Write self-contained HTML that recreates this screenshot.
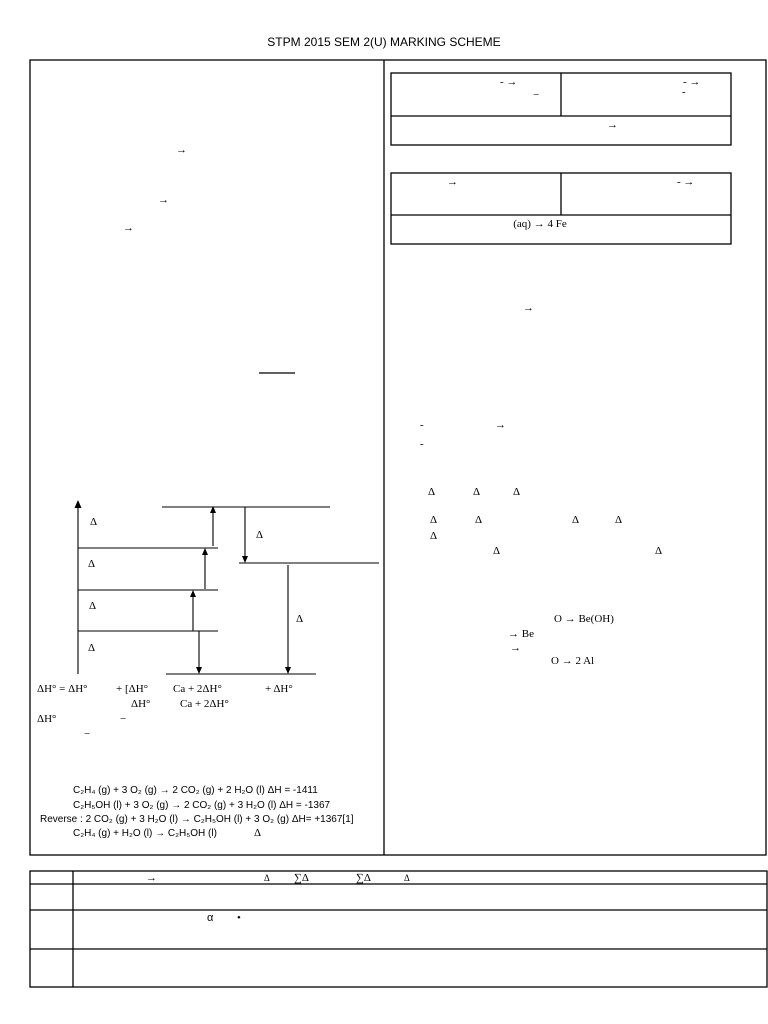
<!DOCTYPE html>
<html><head><meta charset="utf-8"><style>
html,body{margin:0;padding:0;background:#fff;}
svg{display:block}
text{font-family:"Liberation Serif",serif;font-size:11px;fill:#000}
.s{font-family:"Liberation Sans",sans-serif}
</style></head><body>
<svg width="768" height="1024" viewBox="0 0 768 1024" xmlns="http://www.w3.org/2000/svg">
<text x="384" y="46" text-anchor="middle" class="s" font-size="12" style="font-size:12px">STPM 2015 SEM 2(U) MARKING SCHEME</text>
<g fill="none" stroke="#000" stroke-width="1.3">
<rect x="30" y="60" width="736" height="795"/>
<line x1="384" y1="60" x2="384" y2="855"/>
<rect x="391" y="73" width="340" height="72"/>
<line x1="391" y1="116" x2="731" y2="116"/><line x1="561" y1="73" x2="561" y2="116"/>
<rect x="391" y="173" width="340" height="71"/>
<line x1="391" y1="215" x2="731" y2="215"/><line x1="561" y1="173" x2="561" y2="215"/>
<rect x="30" y="871" width="737" height="116"/>
<line x1="30" y1="884" x2="767" y2="884"/><line x1="30" y1="910" x2="767" y2="910"/><line x1="30" y1="949" x2="767" y2="949"/>
<line x1="73" y1="871" x2="73" y2="987"/>
<line x1="259" y1="373" x2="295" y2="373"/>
</g>
<g stroke="#000" stroke-width="1.1" fill="none">
<line x1="78" y1="674" x2="78" y2="505"/>
<line x1="162" y1="507" x2="330" y2="507"/>
<line x1="78" y1="548" x2="218" y2="548"/>
<line x1="78" y1="590" x2="218" y2="590"/>
<line x1="78" y1="631" x2="218" y2="631"/>
<line x1="166" y1="674" x2="316" y2="674"/>
<line x1="239" y1="563" x2="379" y2="563"/>
<line x1="213" y1="546" x2="213" y2="512"/>
<line x1="205" y1="589" x2="205" y2="553"/>
<line x1="193" y1="631" x2="193" y2="595"/>
<line x1="199" y1="631" x2="199" y2="668"/>
<line x1="245" y1="507" x2="245" y2="557"/>
<line x1="288" y1="565" x2="288" y2="668"/>
</g>
<g fill="#000">
<polygon points="78,500 74.5,508 81.5,508"/>
<polygon points="213,506 210,513 216,513"/>
<polygon points="205,548 202,555 208,555"/>
<polygon points="193,590 190,597 196,597"/>
<polygon points="199,674 196,667 202,667"/>
<polygon points="245,563 242,556 248,556"/>
<polygon points="288,674 285,667 291,667"/>
</g>
<text x="90" y="525">Δ</text><text x="88" y="567">Δ</text><text x="89" y="609">Δ</text><text x="88" y="651">Δ</text>
<text x="256" y="538">Δ</text><text x="296" y="622">Δ</text>
<text x="37" y="692">ΔH° = ΔH°</text><text x="116" y="692">+ [ΔH°</text><text x="173" y="692">Ca + 2ΔH°</text><text x="265" y="692">+ ΔH°</text>
<text x="131" y="707">ΔH°</text><text x="180" y="707">Ca + 2ΔH°</text>
<text x="37" y="722">ΔH°</text><text x="120" y="722">−</text><text x="84" y="737">−</text>
<g class="s" style="font-size:10px">
<text class="s" x="73" y="793" style="font-size:10px">C₂H₄ (g) + 3 O₂ (g) → 2 CO₂ (g) + 2 H₂O (l)  ΔH = -1411</text>
<text class="s" x="73" y="808" style="font-size:10px">C₂H₅OH (l) + 3 O₂ (g) → 2 CO₂ (g) + 3 H₂O (l)  ΔH = -1367</text>
<text class="s" x="40" y="822" style="font-size:10px">Reverse : 2 CO₂ (g) + 3 H₂O (l) → C₂H₅OH (l) + 3 O₂ (g) ΔH= +1367[1]</text>
<text class="s" x="73" y="836" style="font-size:10px">C₂H₄ (g) + H₂O (l) → C₂H₅OH (l)</text>
</g>
<text x="254" y="836">Δ</text>
<text x="176" y="153">→</text><text x="158" y="203">→</text><text x="123" y="231">→</text>
<text x="500" y="85">- →</text><text x="533" y="98">−</text><text x="683" y="85">- →</text><text x="682" y="95">-</text>
<text x="607" y="128">→</text>
<text x="447" y="185">→</text><text x="677" y="185">- →</text>
<text x="540" y="227" text-anchor="middle">(aq)  →  4 Fe</text>
<text x="523" y="311">→</text>
<text x="420" y="428">-</text><text x="495" y="428">→</text><text x="420" y="447">-</text>
<text x="428" y="495">Δ</text><text x="473" y="495">Δ</text><text x="513" y="495">Δ</text>
<text x="430" y="523">Δ</text><text x="475" y="523">Δ</text><text x="572" y="523">Δ</text><text x="615" y="523">Δ</text>
<text x="430" y="539">Δ</text><text x="493" y="554">Δ</text><text x="655" y="554">Δ</text>
<text x="554" y="622">O → Be(OH)</text><text x="508" y="637">→  Be</text><text x="510" y="651">→</text><text x="551" y="664">O → 2 Al</text>
<text x="146" y="881">→</text><text x="264" y="881" style="font-size:9px">Δ</text><text x="294" y="881">∑Δ</text><text x="356" y="881">∑Δ</text><text x="404" y="881" style="font-size:9px">Δ</text>
<text class="s" x="207" y="921">α</text><text x="237" y="921">•</text>
</svg>
</body></html>
